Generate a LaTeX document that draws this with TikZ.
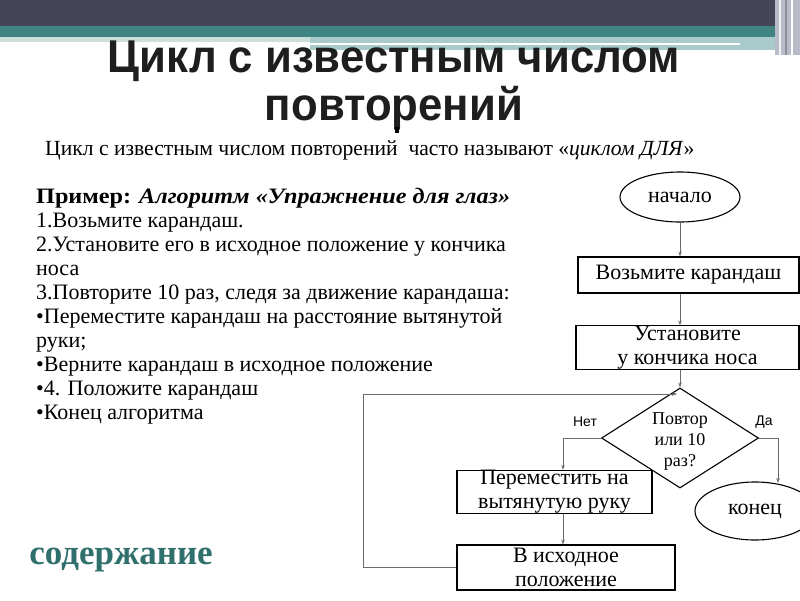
\documentclass[tikz,border=0pt]{standalone}
\usepackage{fontspec}
\setmainfont{Liberation Serif}
\newfontfamily\titlefont{Liberation Sans}
\newfontfamily\labelfont{Liberation Sans}
\usetikzlibrary{shapes.geometric,arrows.meta}
\definecolor{topdark}{HTML}{45455A}
\definecolor{topteal}{HTML}{3F8482}
\definecolor{lightteal}{HTML}{A8CACA}
\definecolor{paleteal}{HTML}{CCDFDD}
\definecolor{stripe}{HTML}{B8BCC8}
\definecolor{contcol}{HTML}{2F6F6C}
\definecolor{arrcol}{HTML}{6A6A6A}
\definecolor{titlecol}{HTML}{1E1E1E}
\tikzset{
  flowbox/.style={draw=black, line width=1.1pt, rectangle, inner sep=0pt, align=center,
    font=\fontsize{22}{24}\selectfont},
  flowoval/.style={draw=black, line width=1.1pt, ellipse, inner sep=0pt,
    font=\fontsize{22}{24}\selectfont},
  flowdia/.style={draw=black, line width=1.1pt, diamond, inner sep=0pt},
  conn/.style={draw=arrcol, line width=0.8pt},
  arr/.style={conn, -{Stealth[length=5pt,width=3.5pt]}},
  yesno/.style={font=\labelfont\fontsize{14}{16}\selectfont},
  bodyline/.style={anchor=base west, inner sep=0pt, font=\fontsize{22}{24}\selectfont},
  titletext/.style={font=\titlefont\bfseries\fontsize{46}{52}\selectfont, inner sep=0pt, text=titlecol},
}
\begin{document}
\begin{tikzpicture}[x=1pt,y=-1pt]
\useasboundingbox (0,0) rectangle (800,600);
\clip (0,0) rectangle (800,600);
\fill[white] (0,0) rectangle (800,600);
% top bars
\fill[topdark] (0,0) rectangle (800,26);
\fill[topteal] (0,26) rectangle (800,37);
\fill[paleteal] (0,37) rectangle (310,42);
\fill[lightteal] (310,37) rectangle (775,50);
\fill[white] (310,42.5) rectangle (740,45);
\fill[stripe] (775,0) rectangle (800,55);
\fill[white!80!stripe] (779,0) rectangle (781,55);
\fill[topdark!60!white] (785,0) rectangle (787,55);
\fill[white] (791,0) rectangle (793,55);
% title
\node[titletext] (t1) at (394,61) {\scalebox{0.95}[1]{Цикл с известным числом}};
\node[titletext] (t2) at (394,108) {\scalebox{0.95}[1]{повторений}};
% subtitle
\node[anchor=base west, inner sep=0pt, font=\fontsize{21.6}{24}\selectfont] (sub) at (45,155)
  {Цикл с известным числом повторений\ \ часто называют «\textit{циклом ДЛЯ}»};
\fill[black] (395,127) rectangle (399,133);
% left text
\node[bodyline] (l1) at (36,203) {\scalebox{1.1}[1]{\textbf{Пример: \textit{Алгоритм «Упражнение для глаз»}}}};
\node[bodyline] (l2) at (36,227) {1.Возьмите карандаш.};
\node[bodyline] (l3) at (36,251) {2.Установите его в исходное положение у кончика};
\node[bodyline] (l4) at (36,275) {носа};
\node[bodyline] (l5) at (36,299) {3.Повторите 10 раз, следя за движение карандаша:};
\node[bodyline] (l6) at (36,323) {•Переместите карандаш на расстояние вытянутой};
\node[bodyline] (l7) at (36,347) {руки;};
\node[bodyline] (l8) at (36,371) {•Верните карандаш в исходное положение};
\node[bodyline] (l9) at (36,395) {•4. Положите карандаш};
\node[bodyline] (l10) at (36,419) {•Конец алгоритма};
% flowchart
\node[flowoval, minimum width=120pt, minimum height=50pt] (start) at (680,197) {начало};
\node[flowbox, minimum width=221pt, minimum height=36pt] (b1) at (688.5,275) {Возьмите карандаш};
\node[flowbox, minimum width=223pt, minimum height=43pt] (b2) at (687.5,347.5) {Установите\\у кончика носа};
\node[flowdia, minimum width=157pt, minimum height=100pt] (dia) at (680,438) {};
\node[inner sep=0pt, align=center, font=\fontsize{18}{21}\selectfont] (diat) at (680,442) {Повтор\\или 10\\раз?};
\node[flowbox, minimum width=195pt, minimum height=42pt] (b3) at (554.5,492) {Переместить на\\вытянутую руку};
\node[flowbox, minimum width=218pt, minimum height=45pt] (b4) at (566,567.5) {В исходное\\положение};
\node[flowoval, minimum width=120pt, minimum height=58pt] (fin) at (755,511) {конец};
\node[yesno] (no) at (585,422) {Нет};
\node[yesno] (yes) at (764,422) {Да};
\coordinate (loopa) at (363,567.5);
\coordinate (loopb) at (363,394);
\coordinate (loope) at (677,394);
\coordinate (nocorner) at (563,438);
\coordinate (yescorner) at (778,438);
\coordinate (yesend) at (778,483);
\draw[arr] (start.south) -- (start.south |- b1.north);
\draw[arr] (start.south |- b1.south) -- (start.south |- b2.north);
\draw[arr] (start.south |- b2.south) -- (dia.north);
\draw[arr] (b4.west) -- (loopa) -- (loopb) -- (loope);
\draw[arr] (dia.west) -- (nocorner) -- (nocorner |- b3.north);
\draw[arr] (dia.east) -- (yescorner) -- (yesend);
\draw[arr] (nocorner |- b3.south) -- (nocorner |- b4.north);
% contents
\node[inner sep=0pt, text=contcol, font=\bfseries\fontsize{35}{38}\selectfont] (cont) at (121,560) {содержание};
\end{tikzpicture}
\end{document}
